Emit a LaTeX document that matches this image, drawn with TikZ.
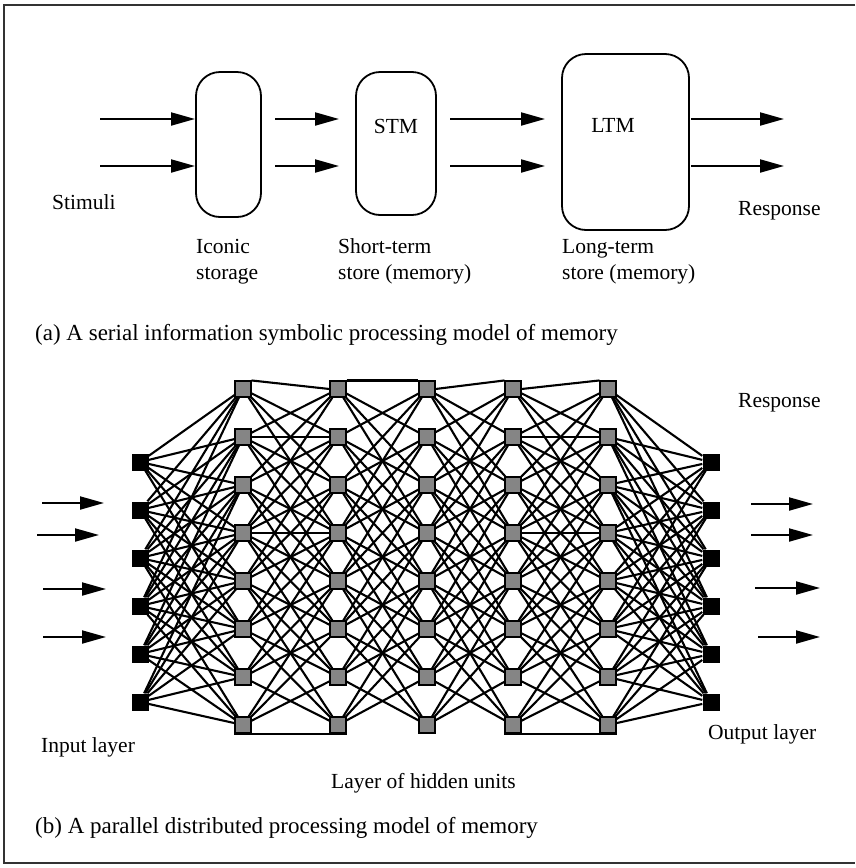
\documentclass[tikz,border=0pt]{standalone}
\usepackage{fontspec}
\setmainfont{Liberation Serif}
\usetikzlibrary{arrows.meta}
\pgfdeclarelayer{wires}
\pgfsetlayers{wires,main}
\definecolor{unitgray}{gray}{0.52}
\tikzset{
  frame/.style={line width=1.4pt, draw=black!80},
  store/.style={draw, line width=1.8pt, rounded corners=24pt, inner sep=0pt},
  flow/.style={line width=2pt, -{Triangle[length=24pt,width=13pt]}},
  lbl/.style={font=\fontsize{21.5}{26}\selectfont, inner sep=0pt},
  capline/.style={font=\fontsize{23}{27}\selectfont, inner sep=0pt},
  ionode/.style={fill=black, minimum size=17pt, inner sep=0pt},
  hidnode/.style={fill=unitgray, draw=black, line width=1.6pt, minimum size=15.5pt, inner sep=0pt},
  link/.style={line width=2.1pt},
}
\begin{document}
\begin{tikzpicture}[x=1pt, y=-1pt]
\useasboundingbox (0,0) rectangle (855,868);
% outer frame
\draw[frame] (855,5) -- (4,5) -- (4,863) -- (855,863);

% ---------- (a) serial model ----------
\node[store, minimum width=65pt, minimum height=145pt] (iconic) at (228.5,144.5) {};
\node[store, minimum width=80pt, minimum height=143pt] (stm) at (396,143.5) {};
\node[store, minimum width=127pt, minimum height=176pt] (ltm) at (625.5,142) {};
\node[lbl, anchor=base] (stmtext) at (396,133) {STM};
\node[lbl, anchor=base] (ltmtext) at (613,132) {LTM};

\foreach \k/\y in {1/119, 2/166} {
  \coordinate (sa\k) at (100,\y);
  \coordinate (sb\k) at (195,\y);
  \coordinate (ia\k) at (275,\y);
  \coordinate (ib\k) at (339,\y);
  \coordinate (ma\k) at (450,\y);
  \coordinate (mb\k) at (545,\y);
  \coordinate (la\k) at (691,\y);
  \coordinate (lb\k) at (784,\y);
  \draw[flow] (sa\k) -- (sb\k);
  \draw[flow] (ia\k) -- (ib\k);
  \draw[flow] (ma\k) -- (mb\k);
  \draw[flow] (la\k) -- (lb\k);
}

\node[lbl, anchor=base west] (stimuli) at (52,209) {Stimuli};
\node[lbl, anchor=base west] (resp1) at (738,215) {Response};
% two-line labels: the base anchor sits on the second line
\node[lbl, anchor=base west, align=left] (iconlbl) at (196,279) {Iconic\\storage};
\node[lbl, anchor=base west, align=left] (stmlbl) at (338,279) {Short-term\\store (memory)};
\node[lbl, anchor=base west, align=left] (ltmlbl) at (562,279) {Long-term\\store (memory)};

\node[capline, anchor=base west] (capa) at (35,340) {(a) A serial information symbolic processing model of memory};

% ---------- (b) parallel distributed model ----------
\foreach \i in {1,...,6} {
  \node[ionode] (in\i) at (140,{414+48*\i}) {};
  \node[ionode] (out\i) at (711,{414+48*\i}) {};
}
\foreach \c/\x in {1/243, 2/338, 3/427, 4/513, 5/608} {
  \foreach \r in {1,...,8} {
    \node[hidnode] (h\c-\r) at (\x,{341+48*\r}) {};
  }
}

\begin{pgfonlayer}{wires}
  % input and output layers to the outer hidden columns
  \foreach \r in {1,...,8} {
    \foreach \i in {1,...,6} {
      \pgfmathtruncatemacro\lo{\r-5}
      \pgfmathtruncatemacro\hi{\r+3}
      \ifnum\i<\lo\else\ifnum\i>\hi\else
        \draw[link] (in\i) -- (h1-\r);
        \draw[link] (out\i) -- (h5-\r);
      \fi\fi
    }
  }
  % hidden column to hidden column
  \foreach \c in {1,...,4} {
    \pgfmathtruncatemacro\n{\c+1}
    \foreach \r in {1,...,8} {
      \foreach \d in {-3,-2,-1,1,2,3} {
        \pgfmathtruncatemacro\t{\r+\d}
        \ifnum\t>0\ifnum\t<9
          \draw[link] (h\c-\r) -- (h\n-\t);
        \fi\fi
      }
    }
  }
  % top chain, joined edge to edge
  \draw[link] (h1-1.north east) -- (h2-1.west);
  \draw[link] (h2-1.north east) -- (h3-1.north west);
  \draw[link] (h3-1.east) -- (h4-1.north west);
  \draw[link] (h4-1.east) -- (h5-1.north west);
  % straight links between neighbouring rows
  \draw[link] (h1-2) -- (h2-2);
  \draw[link] (h4-2) -- (h5-2);
  \draw[link] (h1-4) -- (h2-4);
  \draw[link] (h4-4) -- (h5-4);
  \draw[link] (h1-8.south west) -- (h2-8.south east);
  \draw[link] (h4-8.south west) -- (h5-8.south east);
\end{pgfonlayer}

% stimulus and response arrows
\foreach \k/\xa/\xb/\y in {1/42/104/503, 2/37/99/535, 3/43/106/589, 4/43/106/637} {
  \coordinate (pa\k) at (\xa,\y);
  \coordinate (pb\k) at (\xb,\y);
  \draw[flow] (pa\k) -- (pb\k);
}
\foreach \k/\xa/\xb/\y in {1/751/813/504, 2/751/813/535, 3/755/820/588, 4/758/820/637} {
  \coordinate (qa\k) at (\xa,\y);
  \coordinate (qb\k) at (\xb,\y);
  \draw[flow] (qa\k) -- (qb\k);
}

\node[lbl, anchor=base west] (resp2) at (738,407) {Response};
\node[lbl, anchor=base west] (inlbl) at (41,752) {Input layer};
\node[lbl, anchor=base west] (outlbl) at (708,739) {Output layer};
\node[lbl, anchor=base west] (hidlbl) at (331,788) {Layer of hidden units};
\node[capline, anchor=base west] (capb) at (35,833) {(b) A parallel distributed processing model of memory};
\end{tikzpicture}
\end{document}
